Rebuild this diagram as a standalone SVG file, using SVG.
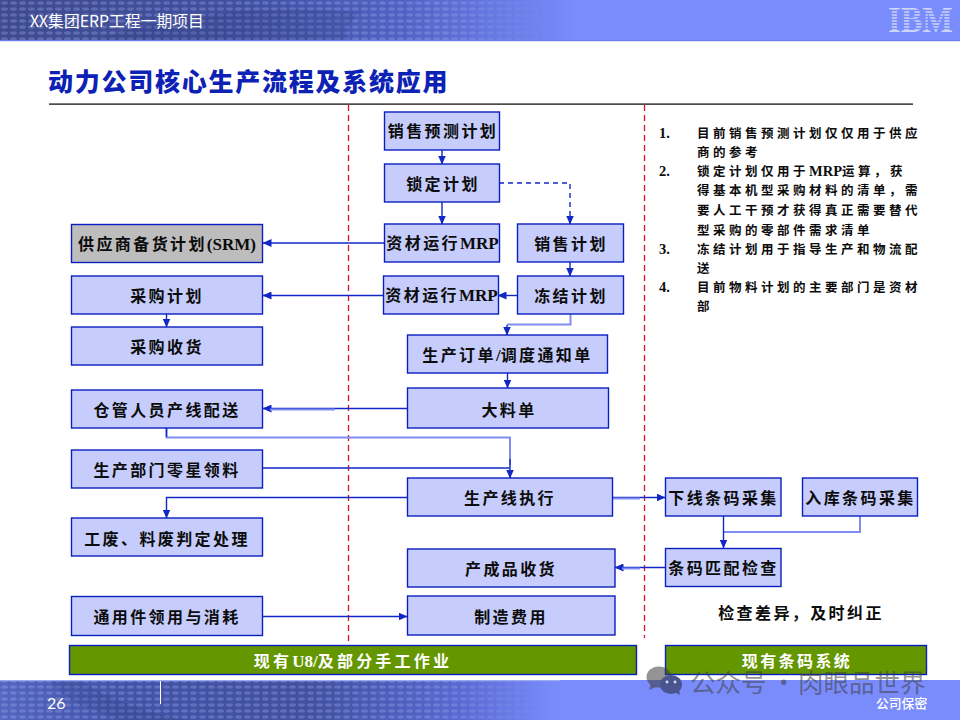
<svg xmlns="http://www.w3.org/2000/svg" width="960" height="720" viewBox="0 0 960 720">
<style>
.b{fill:#c6cdfc;stroke:#0a1fbf;stroke-width:1.4}
.t{font-family:"Liberation Serif","Noto Sans CJK SC",serif;font-weight:700;font-size:16px;letter-spacing:2.4px;fill:#0c0c0c;text-anchor:middle}
.n{font-family:"Liberation Serif","Noto Sans CJK SC",serif;font-weight:700;font-size:12.5px;letter-spacing:3.5px;fill:#0c0c0c}
.c{fill:none;stroke:#1228c6;stroke-width:1.4}
.l{fill:none;stroke:#7f8df0;stroke-width:2}
.r{stroke:#e0102a;stroke-width:1.3;stroke-dasharray:6 4}
.g{fill:#649600;stroke:#0a1fbf;stroke-width:1.4}
.w{font-family:"Liberation Serif","Noto Sans CJK SC",serif;font-weight:700;font-size:16px;letter-spacing:2.4px;fill:#fff;text-anchor:middle}
.z{letter-spacing:0;font-size:17px}
.y{letter-spacing:0;font-size:14.5px}
</style>
<defs>
<marker id="a" markerWidth="9" markerHeight="8" refX="8.5" refY="4" orient="auto" markerUnits="userSpaceOnUse"><path d="M0 0L9 4L0 8z" fill="#1228c6"/></marker>
<linearGradient id="hg" x1="0" x2="1" y1="0" y2="0"><stop offset="0" stop-color="#3f4b8e"/><stop offset=".25" stop-color="#414f9f"/><stop offset=".42" stop-color="#5062c4"/><stop offset=".6" stop-color="#7a8cfc"/><stop offset="1" stop-color="#7a8cfc"/></linearGradient>
<linearGradient id="fg" x1="0" x2="1" y1="0" y2="0"><stop offset="0" stop-color="#5566c0"/><stop offset=".12" stop-color="#4353a8"/><stop offset=".32" stop-color="#42509f"/><stop offset=".48" stop-color="#5869d2"/><stop offset=".58" stop-color="#7a8cfc"/><stop offset="1" stop-color="#7a8cfc"/></linearGradient>
<pattern id="dots" width="9" height="6" patternUnits="userSpaceOnUse"><ellipse cx="4.5" cy="3" rx="3.4" ry="1.7" fill="#9aa8ee" fill-opacity=".35"/></pattern>
<linearGradient id="fade" x1="0" x2="1" y1="0" y2="0"><stop offset="0" stop-color="#fff"/><stop offset=".8" stop-color="#fff"/><stop offset="1" stop-color="#000"/></linearGradient>
<mask id="m1"><rect x="0" y="0" width="560" height="41" fill="url(#fade)"/></mask>
<mask id="m2"><rect x="0" y="680" width="560" height="40" fill="url(#fade)"/></mask>
</defs>
<rect width="960" height="720" fill="#fff"/>
<g id="header">
<rect width="960" height="41" fill="url(#hg)"/>
<rect width="560" height="41" fill="url(#dots)" mask="url(#m1)"/>
<path d="M90 41Q220 0 360 12Q340 30 350 41z" fill="#2f3a7c" fill-opacity=".22"/>
<text x="30" y="27" font-family="'Noto Sans CJK SC','Liberation Sans',sans-serif" font-size="15.800" fill="#fff">XX集团ERP工程一期项目</text>
<text x="888" y="31.500" font-family="'Liberation Serif',serif" font-weight="700" font-size="35" textLength="65" lengthAdjust="spacingAndGlyphs" fill="#cdd6f8">IBM</text>
<g stroke="#7a8cfc" stroke-width="1.300"><path d="M886 10.500H955M886 13.500H955M886 16.500H955M886 19.500H955M886 22.500H955M886 25.500H955M886 28.500H955"/></g>
<rect y="40" width="960" height="1.200" fill="#6b7de8"/>
</g>
<g id="footer">
<rect y="680" width="960" height="40" fill="url(#fg)"/>
<rect y="680" width="560" height="40" fill="url(#dots)" mask="url(#m2)"/>
<path d="M80 680Q130 712 190 720H120Q60 700 50 680z" fill="#2f3a7c" fill-opacity=".2"/>
<rect y="680" width="560" height="1.200" fill="#9aa8f4"/>
<rect x="160" y="681" width="1" height="23" fill="#fff"/>
<text x="47" y="709" font-family="Lato,'Open Sans',sans-serif" font-size="16" fill="#fff">26</text>
<text x="876" y="707.500" font-family="'Noto Sans CJK SC',sans-serif" font-size="12.800" font-weight="500" fill="#fff">公司保密</text>
</g>
<text id="title" x="48" y="91" font-family="'Noto Sans CJK SC',sans-serif" font-weight="900" font-size="25" letter-spacing="1.750" fill="#0c22b4">动力公司核心生产流程及系统应用</text>
<rect x="49" y="103.500" width="864" height="1.200" fill="#000"/>
<g id="dividers">
<line class="r" x1="348.500" y1="105" x2="348.500" y2="643"/>
<line class="r" x1="644.500" y1="105" x2="644.500" y2="638"/>
</g>
<g id="connectors">
<path class="c" d="M442 150V164" marker-end="url(#a)"/>
<path class="c" d="M442 202V224" marker-end="url(#a)"/>
<path class="c" stroke-dasharray="5 4" d="M499 183H570V224" marker-end="url(#a)"/>
<path class="c" d="M570 262V276" marker-end="url(#a)"/>
<path class="c" d="M517 295.500H498" marker-end="url(#a)"/>
<path class="c" d="M384 243H263" marker-end="url(#a)"/>
<path class="c" d="M383 295.500H263" marker-end="url(#a)"/>
<path class="c" d="M166.500 314V327" marker-end="url(#a)"/>
<path class="l" d="M570.500 314V324.500H507"/>
<path class="c" d="M507 325V335" marker-end="url(#a)"/>
<path class="c" d="M507.500 373V388" marker-end="url(#a)"/>
<path class="c" d="M407 408.500H263" marker-end="url(#a)"/>
<path class="l" d="M335 409.500H270"/>
<path class="l" d="M166.500 428V437.500H510V465"/>
<path class="c" d="M166.500 428V437"/>
<path class="c" d="M263 468H510"/>
<path class="c" stroke-width="2" d="M510 459V478" marker-end="url(#a)"/>
<path class="c" d="M407 497.500H166.500V518" marker-end="url(#a)"/>
<path class="c" d="M612 497.500H665" marker-end="url(#a)"/>
<path class="l" d="M612 498.500H640"/>
<path class="l" d="M860 516V532H723.500"/>
<path class="c" d="M723.500 516V548" marker-end="url(#a)"/>
<path class="c" d="M665 567.500H615" marker-end="url(#a)"/>
<path class="l" d="M640 568.500H622"/>
<path class="c" d="M263 616.500H407" marker-end="url(#a)"/>
</g>
<g id="n1"><rect class="b" x="384.500" y="112" width="115" height="38"/><text class="t" x="443" y="137">销售预测计划</text></g>
<g id="n2"><rect class="b" x="384.500" y="164" width="115" height="38"/><text class="t" x="443" y="190">锁定计划</text></g>
<g id="n3"><rect class="b" x="384.500" y="224" width="115" height="38"/><text class="t" x="442.500" y="249">资材运行<tspan class="z">MRP</tspan></text></g>
<g id="n4"><rect class="b" x="517.500" y="224" width="106" height="38"/><text class="t" x="571" y="250">销售计划</text></g>
<g id="n5"><rect class="b" x="383.500" y="276" width="115" height="38"/><text class="t" x="441.500" y="301">资材运行<tspan class="z">MRP</tspan></text></g>
<g id="n6"><rect class="b" x="517.500" y="276" width="106" height="38"/><text class="t" x="571" y="302">冻结计划</text></g>
<g id="n7"><rect class="b" x="71.500" y="224.500" width="191" height="38" style="fill:#bdbdbd"/><text class="t" x="167" y="250">供应商备货计划<tspan class="z">(SRM)</tspan></text></g>
<g id="n8"><rect class="b" x="71.500" y="276" width="191" height="38"/><text class="t" x="167" y="302">采购计划</text></g>
<g id="n9"><rect class="b" x="71.500" y="327" width="191" height="38"/><text class="t" x="167" y="353">采购收货</text></g>
<g id="n10"><rect class="b" x="407.500" y="335" width="200" height="38"/><text class="t" x="507.500" y="361">生产订单<tspan class="z">/</tspan>调度通知单</text></g>
<g id="n11"><rect class="b" x="71.500" y="390" width="191" height="38"/><text class="t" x="167" y="416">仓管人员产线配送</text></g>
<g id="n12"><rect class="b" x="407.500" y="388" width="201" height="40"/><text class="t" x="509" y="416">大料单</text></g>
<g id="n13"><rect class="b" x="71.500" y="450" width="191" height="38"/><text class="t" x="167" y="476">生产部门零星领料</text></g>
<g id="n14"><rect class="b" x="407.500" y="478" width="205" height="38"/><text class="t" x="510" y="504">生产线执行</text></g>
<g id="n15"><rect class="b" x="665.500" y="478" width="115.500" height="38"/><text class="t" x="723.500" y="504">下线条码采集</text></g>
<g id="n16"><rect class="b" x="802.500" y="478" width="115" height="38"/><text class="t" x="860.500" y="504">入库条码采集</text></g>
<g id="n17"><rect class="b" x="71.500" y="518" width="191" height="38"/><text class="t" x="167" y="545">工废、料废判定处理</text></g>
<g id="n18"><rect class="b" x="407.500" y="549" width="207.500" height="38"/><text class="t" x="511" y="575">产成品收货</text></g>
<g id="n19"><rect class="b" x="665.500" y="548.500" width="115.500" height="38"/><text class="t" x="723.500" y="574">条码匹配检查</text></g>
<g id="n20"><rect class="b" x="71.500" y="596.500" width="191" height="39"/><text class="t" x="167" y="623">通用件领用与消耗</text></g>
<g id="n21"><rect class="b" x="407.500" y="596" width="207.500" height="39"/><text class="t" x="511" y="623">制造费用</text></g>
<text id="check" class="t" x="801" y="619">检查差异，及时纠正</text>
<g id="notes">
<text class="n y" x="659" y="138">1.</text><text class="n" x="697" y="138">目前销售预测计划仅仅用于供应</text>
<text class="n" x="697" y="157">商的参考</text>
<text class="n y" x="659" y="176">2.</text><text class="n" x="697" y="176">锁定计划仅用于<tspan class="y">MRP</tspan>运算，获</text>
<text class="n" x="697" y="195">得基本机型采购材料的清单，需</text>
<text class="n" x="697" y="215">要人工干预才获得真正需要替代</text>
<text class="n" x="697" y="235">型采购的零部件需求清单</text>
<text class="n y" x="659" y="254">3.</text><text class="n" x="697" y="254">冻结计划用于指导生产和物流配</text>
<text class="n" x="697" y="273">送</text>
<text class="n y" x="659" y="292">4.</text><text class="n" x="697" y="292">目前物料计划的主要部门是资材</text>
<text class="n" x="697" y="311">部</text>
</g>
<g id="bar1"><rect class="g" x="69.500" y="645.500" width="567" height="29"/><text class="w" x="353" y="667" style="letter-spacing:3.2px">现有<tspan class="z">U8/</tspan>及部分手工作业</text></g>
<g id="bar2"><rect class="g" x="665.500" y="645.500" width="261" height="29"/><text class="w" x="797" y="667">现有条码系统</text></g>
<g id="watermark">
<g fill="#3c3c3c" fill-opacity=".55">
<ellipse cx="659" cy="677" rx="12.500" ry="10.500"/><path d="M651 684l-2 6l7-3z"/>
</g>
<ellipse cx="671" cy="684.500" rx="11" ry="9.500" fill="#4a5590"/><path d="M675 692l5 3l-1-6z" fill="#4a5590"/>
<g fill="#d8dcf0"><circle cx="667" cy="682" r="1.400"/><circle cx="675" cy="682" r="1.400"/></g>
<text y="691.500" fill="#3c3c3c" fill-opacity=".55" font-family="'Noto Sans CJK SC',sans-serif" font-size="25.500"><tspan x="690">公众号</tspan><tspan x="771">·</tspan><tspan x="798">肉眼品世界</tspan></text>
</g>
</svg>
